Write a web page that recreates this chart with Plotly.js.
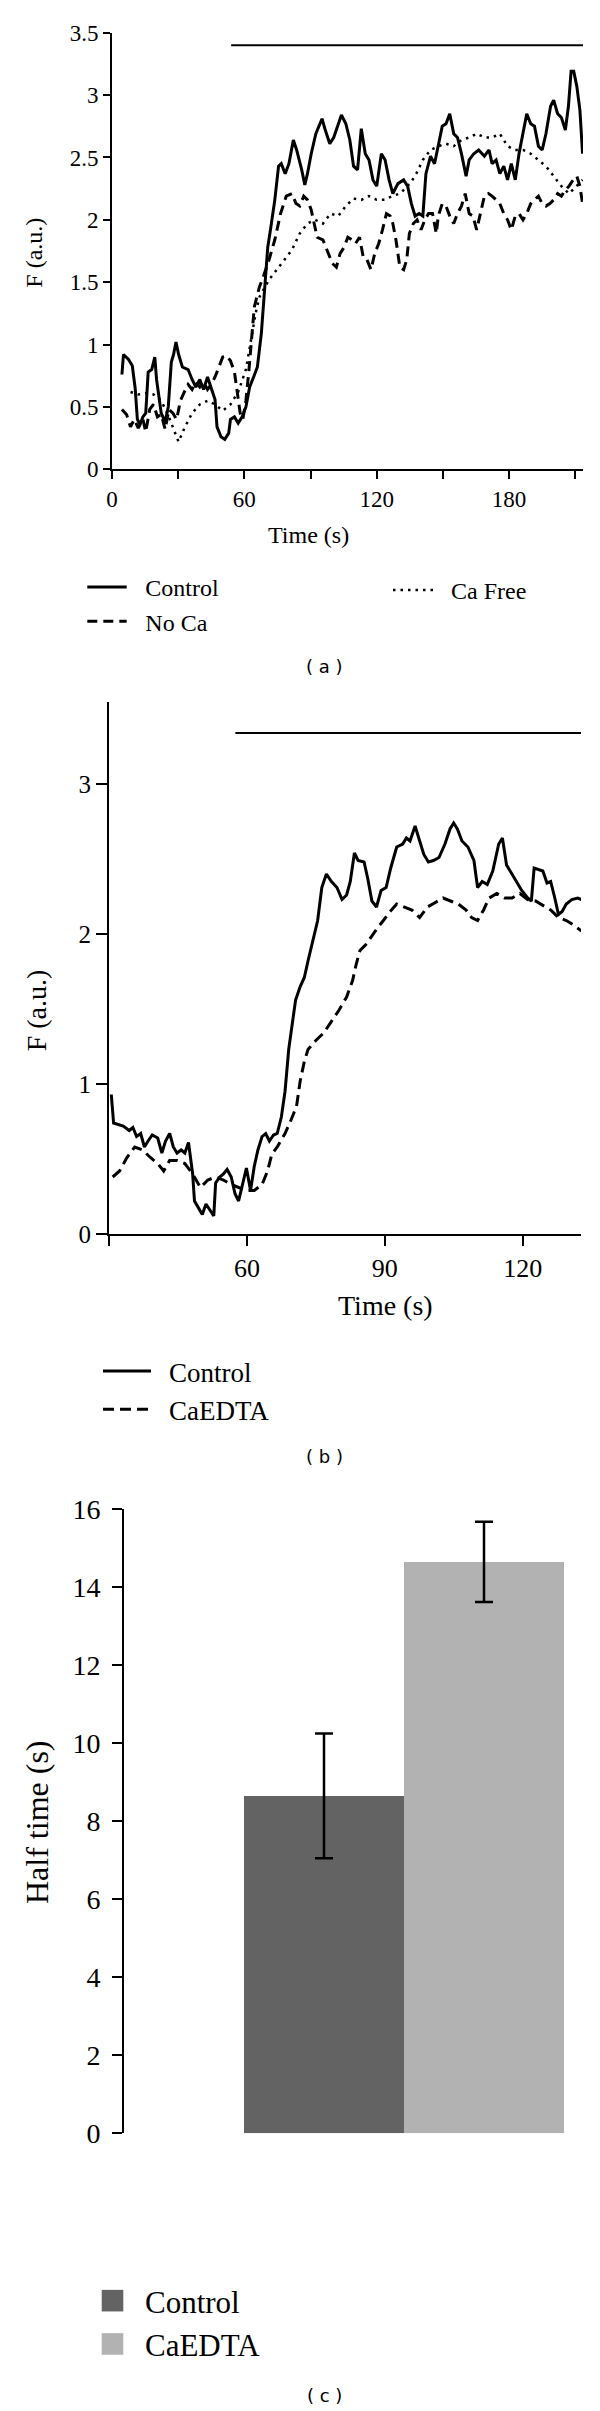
<!DOCTYPE html>
<html><head><meta charset="utf-8">
<script src="https://cdn.plot.ly/plotly-3.0.1.min.js"></script>
<style>html,body{margin:0;padding:0;background:#fff}#chart{width:600px;height:2411px}</style>
</head><body><div id="chart"></div>
<script>
// ---------- Panel (a) data ----------
var ctrlA_t = [4.5,5.2,7.5,9.2,10.5,11.5,12.7,14.0,15.3,16.4,18.0,19.4,20.2,21.3,22.3,24.1,25.5,26.9,27.9,29.0,30.2,31.9,34.5,36.3,38.0,39.8,41.5,43.3,45.0,46.7,47.6,49.4,51.1,52.9,53.7,55.5,57.2,59.0,60.7,62.4,64.2,65.9,67.7,69.4,70.6,72.0,73.8,75.5,76.7,78.5,80.2,82.2,83.7,86.0,87.4,88.6,90.3,92.4,93.8,95.2,96.5,98.7,100.5,102.2,104.0,106.0,107.8,109.5,111.3,113.0,114.8,116.5,118.3,120.0,122.1,123.8,125.6,127.3,129.6,132.2,134.0,135.7,137.4,139.2,140.9,142.3,144.4,146.2,147.9,149.7,151.4,153.1,154.9,156.6,158.4,160.5,161.9,164.0,166.2,168.8,170.9,172.3,174.1,175.8,177.6,179.3,181.0,182.8,184.5,186.3,188.0,189.8,191.5,193.3,195.0,196.7,198.8,200.2,202.0,203.7,205.5,206.9,208.1,209.3,210.7,212.1,213.3];
var ctrlA_v = [0.76,0.92,0.88,0.83,0.65,0.40,0.36,0.42,0.45,0.78,0.80,0.90,0.72,0.58,0.45,0.38,0.50,0.86,0.92,1.02,0.92,0.82,0.80,0.72,0.66,0.72,0.64,0.74,0.64,0.56,0.34,0.26,0.24,0.29,0.40,0.42,0.37,0.42,0.50,0.66,0.74,0.82,1.09,1.49,1.78,1.94,2.16,2.43,2.45,2.37,2.45,2.64,2.56,2.40,2.28,2.37,2.53,2.69,2.75,2.81,2.73,2.61,2.66,2.75,2.84,2.77,2.64,2.43,2.40,2.73,2.53,2.48,2.32,2.27,2.53,2.48,2.32,2.21,2.29,2.32,2.27,2.13,2.03,2.05,2.03,2.37,2.51,2.45,2.59,2.75,2.77,2.85,2.69,2.66,2.53,2.35,2.48,2.53,2.56,2.51,2.56,2.45,2.48,2.37,2.43,2.32,2.45,2.32,2.53,2.69,2.85,2.77,2.75,2.59,2.56,2.69,2.91,2.96,2.85,2.82,2.72,2.91,3.19,3.19,3.07,2.88,2.53];
var noCaA_t = [4.5,6.6,8.4,10.1,11.9,14.0,15.3,17.1,18.8,20.6,22.3,24.1,25.8,27.6,29.3,31.0,32.8,34.5,36.3,38.0,39.8,41.5,43.3,45.0,46.7,48.5,50.2,52.0,53.7,55.5,56.9,58.1,59.3,60.7,62.1,63.3,64.5,65.9,66.8,68.5,71.2,73.8,76.4,79.0,81.6,83.4,85.1,86.9,88.6,90.3,93.0,95.6,98.2,99.9,101.7,103.4,105.2,106.9,108.7,110.4,112.2,113.9,115.6,117.4,119.1,120.9,122.6,124.4,126.1,127.3,128.7,130.5,132.2,133.6,134.8,136.6,138.3,140.1,141.8,143.5,145.3,147.0,147.9,149.7,151.4,153.1,154.9,156.6,158.4,160.1,161.9,163.6,165.3,167.1,168.8,170.6,172.3,174.1,175.8,177.6,179.3,181.0,182.8,184.5,186.3,188.0,189.8,191.5,193.3,195.0,196.7,198.5,200.2,202.0,203.7,205.5,207.2,209.0,210.7,212.1,213.3];
var noCaA_v = [0.48,0.44,0.34,0.40,0.33,0.40,0.30,0.48,0.52,0.42,0.44,0.32,0.48,0.45,0.40,0.55,0.62,0.68,0.64,0.70,0.66,0.70,0.64,0.68,0.74,0.82,0.90,0.91,0.87,0.78,0.62,0.45,0.40,0.55,0.80,1.09,1.30,1.40,1.46,1.54,1.68,1.84,2.05,2.19,2.21,2.13,2.11,2.19,2.16,2.08,1.86,1.84,1.73,1.65,1.62,1.73,1.78,1.86,1.84,1.81,1.86,1.70,1.68,1.60,1.73,1.81,1.92,2.05,2.03,1.97,1.84,1.62,1.60,1.68,1.89,1.97,2.00,1.92,2.00,2.05,2.05,1.89,2.03,2.13,2.11,2.03,1.97,2.05,2.11,2.21,2.05,2.03,1.92,2.05,2.19,2.21,2.19,2.16,2.13,2.05,2.00,1.92,2.03,2.05,2.00,2.05,2.13,2.16,2.19,2.13,2.11,2.13,2.16,2.21,2.19,2.24,2.27,2.32,2.35,2.27,2.13];
var caFreeA_t = [8.4,11.9,15.3,18.8,22.3,25.8,28.4,30.2,32.8,36.3,39.8,43.3,46.7,50.2,53.7,57.2,60.7,63.3,65.1,66.8,69.4,71.2,74.7,78.1,81.6,85.1,88.6,92.1,95.6,99.1,102.6,106.0,109.5,113.0,116.5,120.0,123.5,127.0,130.5,134.0,137.4,140.9,144.4,147.9,151.4,154.9,158.4,161.9,165.3,168.8,172.3,175.8,179.3,182.8,186.3,189.8,193.3,196.7,200.2,203.7,207.2,210.7,213.3];
var caFreeA_v = [0.62,0.60,0.61,0.60,0.55,0.42,0.30,0.22,0.33,0.45,0.52,0.55,0.52,0.47,0.52,0.62,0.80,1.05,1.25,1.38,1.46,1.52,1.60,1.68,1.76,1.89,1.97,2.00,1.97,2.05,2.03,2.11,2.17,2.16,2.19,2.16,2.16,2.19,2.21,2.27,2.35,2.48,2.56,2.59,2.61,2.59,2.64,2.66,2.69,2.66,2.66,2.69,2.59,2.56,2.56,2.53,2.48,2.43,2.35,2.27,2.21,2.27,2.32];
var stimA_t = [54, 213.5];
var stimA_v = [3.4, 3.4];
var tickValsA = [0,30,60,90,120,150,180,210];
var tickTextA = ['0','','60','','120','','180',''];
var yTickValsA = [0,0.5,1,1.5,2,2.5,3,3.5];
var yTickTextA = ['0','0.5','1','1.5','2','2.5','3','3.5'];

// ---------- Panel (b) data ----------
var ctrlB_t = [30.5,31.0,33.1,34.4,35.2,36.0,36.9,37.7,38.5,39.4,40.6,41.5,42.3,43.2,44.0,44.8,45.7,46.5,47.3,48.2,48.6,49.4,50.3,51.1,52.0,52.8,53.2,54.1,54.9,55.7,56.6,57.4,58.2,59.1,59.9,60.8,61.6,62.4,63.3,64.1,64.9,65.8,66.6,67.5,68.3,69.1,70.0,70.6,71.6,72.5,73.3,74.2,75.4,76.3,77.3,78.4,79.6,80.7,81.7,82.5,83.4,84.2,85.5,86.3,87.2,88.2,89.2,90.3,91.3,92.6,93.9,94.7,95.5,96.6,97.6,98.5,99.5,100.6,101.8,103.1,104.2,105.0,105.8,106.8,108.1,109.4,110.2,111.2,112.3,113.5,114.8,115.6,116.5,117.3,118.6,119.8,121.1,121.9,122.5,123.4,124.4,125.3,126.1,127.0,127.8,128.6,129.5,130.7,132.0,132.8];
var ctrlB_v = [0.93,0.74,0.72,0.69,0.71,0.65,0.67,0.58,0.62,0.66,0.64,0.54,0.62,0.67,0.58,0.54,0.56,0.54,0.61,0.40,0.22,0.18,0.13,0.20,0.16,0.12,0.34,0.38,0.40,0.43,0.38,0.27,0.22,0.34,0.44,0.29,0.45,0.56,0.65,0.67,0.62,0.66,0.67,0.78,0.95,1.23,1.45,1.56,1.65,1.71,1.82,1.93,2.09,2.31,2.40,2.35,2.31,2.23,2.26,2.35,2.54,2.49,2.48,2.37,2.22,2.18,2.29,2.31,2.44,2.58,2.60,2.64,2.62,2.72,2.62,2.53,2.48,2.49,2.51,2.60,2.70,2.74,2.70,2.62,2.58,2.49,2.31,2.35,2.33,2.42,2.60,2.64,2.46,2.42,2.35,2.29,2.24,2.22,2.44,2.43,2.42,2.34,2.35,2.24,2.13,2.15,2.20,2.23,2.24,2.23];
var edtaB_t = [30.8,32.3,33.9,35.6,37.3,39.0,40.6,41.9,43.2,44.8,46.5,48.2,49.9,51.5,53.2,54.9,56.6,58.2,59.9,61.6,63.3,64.5,65.4,66.6,68.3,69.6,70.8,71.6,72.5,73.3,75.0,76.7,78.4,80.0,81.7,83.0,83.8,84.6,85.9,87.2,88.4,89.7,90.9,92.6,94.3,95.9,97.6,99.3,101.0,102.7,104.3,106.0,107.7,108.9,110.2,111.5,112.7,114.4,116.1,117.7,119.4,121.1,122.8,124.4,126.1,127.8,129.5,131.1,132.8];
var edtaB_v = [0.38,0.42,0.51,0.58,0.56,0.51,0.47,0.42,0.49,0.49,0.47,0.40,0.31,0.36,0.38,0.36,0.33,0.31,0.29,0.29,0.33,0.42,0.53,0.58,0.67,0.76,0.85,1.02,1.15,1.23,1.29,1.34,1.42,1.49,1.58,1.69,1.80,1.89,1.93,1.99,2.04,2.09,2.14,2.20,2.18,2.16,2.11,2.18,2.21,2.24,2.22,2.20,2.16,2.11,2.09,2.16,2.24,2.27,2.24,2.24,2.27,2.23,2.22,2.19,2.16,2.11,2.09,2.06,2.02];
var stimB_t = [57.5, 132.7];
var stimB_v = [3.34, 3.34];
var tickValsB = [30,60,90,120];
var tickTextB = ['','60','90','120'];
var yTickValsB = [0,1,2,3];

// ---------- Panel (c) data ----------
var barCategories = ['Control','CaEDTA'];
var halfTime = [8.65, 14.65];
var halfTimeErr = [1.6, 1.03];
var barColors = ['#636363','#b2b2b2'];

// ---------- layout helpers (pixel -> paper) ----------
var W = 600, H = 2411;
function PX(x){ return x / W; }
function PY(y){ return 1 - y / H; }

var SERIF = 'Liberation Serif, Times New Roman, serif';
var SANS = 'DejaVu Sans, Verdana, sans-serif';

var traces = [
  {x: ctrlA_t, y: ctrlA_v, xaxis:'x', yaxis:'y', mode:'lines', name:'Control', legend:'legend',
   line:{color:'#000', width:3}},
  {x: noCaA_t, y: noCaA_v, xaxis:'x', yaxis:'y', mode:'lines', name:'No Ca', legend:'legend',
   line:{color:'#000', width:3, dash:'10px,6px'}},
  {x: caFreeA_t, y: caFreeA_v, xaxis:'x', yaxis:'y', mode:'lines', name:'Ca Free', legend:'legend2',
   line:{color:'#000', width:2.5, dash:'2.5px,5px'}},
  {x: stimA_t, y: stimA_v, xaxis:'x', yaxis:'y', mode:'lines', showlegend:false, hoverinfo:'skip',
   line:{color:'#000', width:2}},

  {x: ctrlB_t, y: ctrlB_v, xaxis:'x2', yaxis:'y2', mode:'lines', name:'Control', legend:'legend3',
   line:{color:'#000', width:3}},
  {x: edtaB_t, y: edtaB_v, xaxis:'x2', yaxis:'y2', mode:'lines', name:'CaEDTA', legend:'legend3',
   line:{color:'#000', width:3, dash:'11px,6px'}},
  {x: stimB_t, y: stimB_v, xaxis:'x2', yaxis:'y2', mode:'lines', showlegend:false, hoverinfo:'skip',
   line:{color:'#000', width:2}},

  {type:'bar', x:[barCategories[0]], y:[halfTime[0]], xaxis:'x3', yaxis:'y3', name:barCategories[0],
   legend:'legend4', width:1, marker:{color:barColors[0]},
   error_y:{type:'data', array:[halfTimeErr[0]], visible:true, color:'#000', thickness:2.5, width:9}},
  {type:'bar', x:[barCategories[1]], y:[halfTime[1]], xaxis:'x3', yaxis:'y3', name:barCategories[1],
   legend:'legend4', width:1, marker:{color:barColors[1]},
   error_y:{type:'data', array:[halfTimeErr[1]], visible:true, color:'#000', thickness:2.5, width:9}}
];

var axBase = {showline:true, linecolor:'#000', linewidth:2, ticks:'outside', tickcolor:'#000',
  tickwidth:2, showgrid:false, zeroline:false, fixedrange:true};

function ax(extra){ var o = {}; for (var k in axBase) o[k]=axBase[k]; for (var k2 in extra) o[k2]=extra[k2]; return o; }

function legendCfg(x, yTop, size, itemwidth){
  return {x:PX(x), y:PY(yTop), xanchor:'left', yanchor:'top', xref:'paper', yref:'paper',
    bgcolor:'rgba(0,0,0,0)', borderwidth:0, itemwidth:itemwidth, traceorder:'normal',
    font:{family:SERIF, size:size, color:'#000'}};
}

function ann(text, x, y, size, family, angle){
  return {text:text, x:PX(x), y:PY(y), xref:'paper', yref:'paper', showarrow:false,
    xanchor:'center', yanchor:'middle', textangle:angle||0,
    font:{family:family, size:size, color:'#000'}};
}

var layout = {
  width: W, height: H,
  margin: {l:0, r:0, t:0, b:0, pad:0},
  paper_bgcolor:'#fff', plot_bgcolor:'rgba(0,0,0,0)',
  font:{family:SERIF, color:'#000'},
  showlegend:true,
  barmode:'overlay',
  xaxis: ax({domain:[PX(112), PX(583)], range:[0, 213.5], anchor:'y', ticklen:8,
    tickmode:'array', tickvals:tickValsA, ticktext:tickTextA, tickfont:{family:SERIF, size:23}}),
  yaxis: ax({domain:[PY(469.3), PY(32.7)], range:[0, 3.5], anchor:'x', ticklen:7,
    tickmode:'array', tickvals:yTickValsA, ticktext:yTickTextA, tickfont:{family:SERIF, size:23}}),
  xaxis2: ax({domain:[PX(109), PX(581)], range:[30, 132.7], anchor:'y2', ticklen:10,
    tickmode:'array', tickvals:tickValsB, ticktext:tickTextB, tickfont:{family:SERIF, size:26}}),
  yaxis2: ax({domain:[PY(1234), PY(701.5)], range:[0, 3.55], anchor:'x2', ticklen:11,
    tickmode:'array', tickvals:yTickValsB, tickfont:{family:SERIF, size:25}}),
  xaxis3: {domain:[PX(124), PX(564)], range:[-1.25, 1.5], anchor:'y3', type:'category',
    categoryorder:'array', categoryarray:barCategories, visible:false, fixedrange:true},
  yaxis3: ax({domain:[PY(2133.3), PY(1509.3)], range:[0, 16], anchor:'x3', ticklen:10,
    tickmode:'linear', tick0:0, dtick:2, ticklabelstandoff:6, tickfont:{family:SERIF, size:28}}),

  legend: legendCfg(82.3, 565, 24, 53),
  legend2: legendCfg(388, 568, 24, 53),
  legend3: legendCfg(98, 1347, 27, 61),
  legend4: legendCfg(80, 2274, 31, 55),

  annotations: [
    ann('F (a.u.)', 34, 252.7, 24, SERIF, -90),
    ann('Time (s)', 308.3, 535, 24, SERIF),
    ann('( a )', 324, 666, 18, SANS),
    ann('F (a.u.)', 36.5, 1010.8, 28, SERIF, -90),
    ann('Time (s)', 385, 1305.7, 28, SERIF),
    ann('( b )', 324, 1456.7, 18, SANS),
    ann('Half time (s)', 37, 1822, 32, SERIF, -90),
    ann('( c )', 324, 2395, 18, SANS)
  ]
};

// legend sample lengths (px) matching the reference key
var legendLineLen = {legend:39.4, legend2:42, legend3:48};

Plotly.newPlot('chart', traces, layout, {displayModeBar:false, staticPlot:true}).then(function(){
  Object.keys(legendLineLen).forEach(function(id){
    document.querySelectorAll('g.' + id + ' .legendlines path').forEach(function(p){
      p.setAttribute('d', 'M5,0h' + legendLineLen[id]);
    });
  });
  document.querySelectorAll('g.legend4 .legendpoints path').forEach(function(p){
    p.setAttribute('d','M10.8,10.8H-10.8V-10.8H10.8Z');
  });
});
</script></body></html>
